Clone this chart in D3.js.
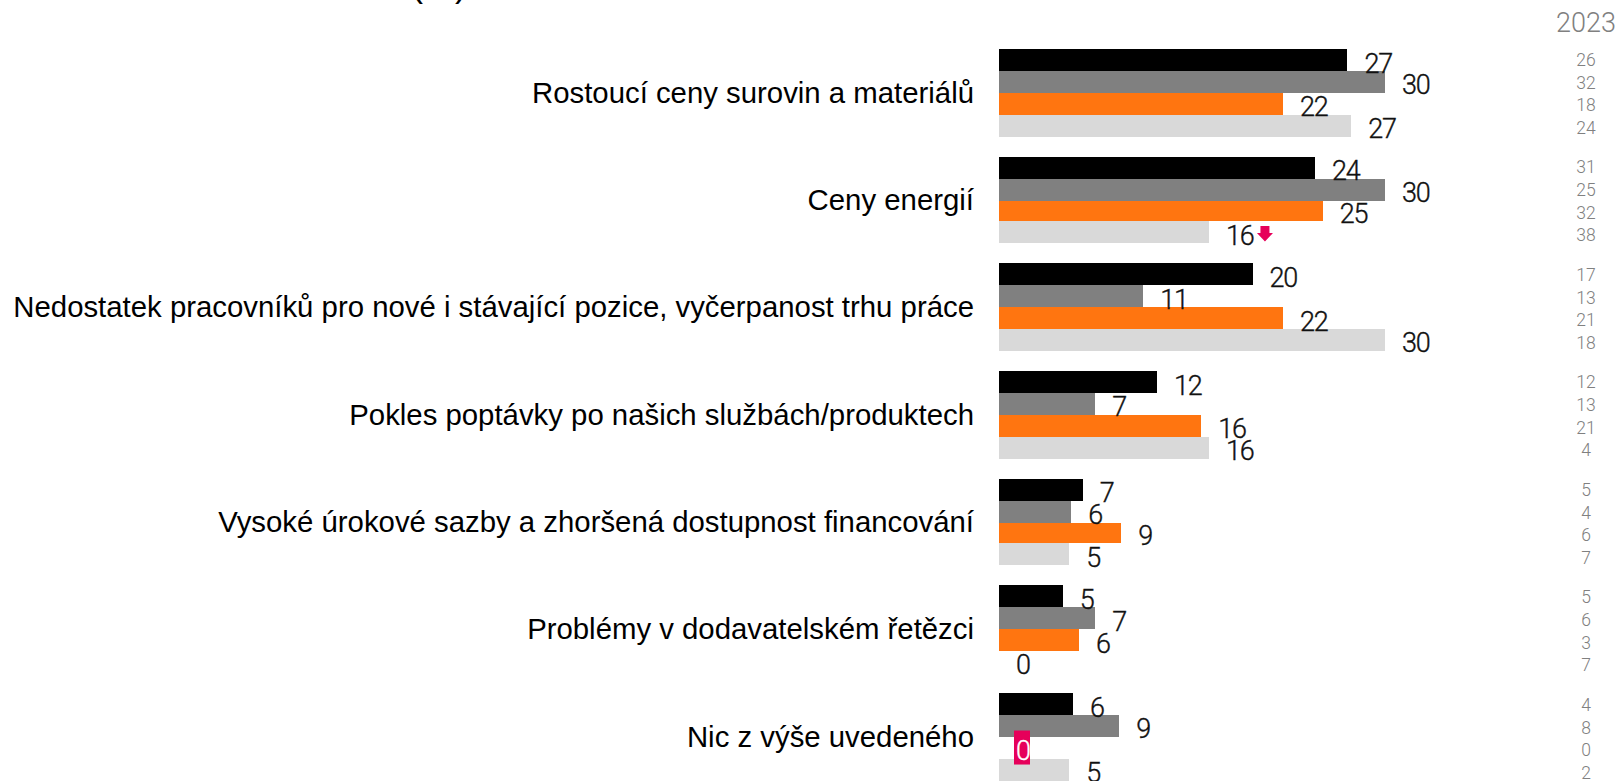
<!DOCTYPE html>
<html lang="cs"><head><meta charset="utf-8">
<script src="https://cdn.jsdelivr.net/npm/d3@7"></script>
<style>html,body{margin:0;padding:0;background:#fff;overflow:hidden}svg{display:block}</style>
</head><body><svg id="c" width="1616" height="781"></svg>
<script>
const categories=["Rostoucí ceny surovin a materiálů","Ceny energií","Nedostatek pracovníků pro nové i stávající pozice, vyčerpanost trhu práce","Pokles poptávky po našich službách/produktech","Vysoké úrokové sazby a zhoršená dostupnost financování","Problémy v dodavatelském řetězci","Nic z výše uvedeného"];
const seriesColors=["#000000","#808080","#ff7510","#d9d9d9"];
const barValues=[[26.8,29.7,21.85,27.1],[24.3,29.7,24.9,16.15],[19.5,11.1,21.85,29.7],[12.15,7.4,15.55,16.15],[6.45,5.55,9.4,5.4],[4.9,7.4,6.15,0],[5.7,9.25,0,5.4]];
const labelValues=[[27,30,22,27],[24,30,25,16],[20,11,22,30],[12,7,16,16],[7,6,9,5],[5,7,6,0],[6,9,0,5]];
const year2023=[[26,32,18,24],[31,25,32,38],[17,13,21,18],[12,13,21,4],[5,4,6,7],[5,6,3,7],[4,8,0,2]];
const columnTitle="2023";
const titleFragment="(%)";
const downMarks=[[1,3]];
const tagMarks=[[6,2]];
const pink="#e6005a";
const numFont="Roboto, sans-serif";
const svg=d3.select("#c");
const snapY=v=>2*Math.round((v-1)/2)+1;
const x=d3.scaleLinear().domain([0,30]).range([999,1389]);
const groupStep=107.33,barH=21.7,top0=49.3;
const yS=d3.scaleBand().domain(d3.range(4)).range([0,4*barH]);
const yb=(g,s)=>top0+groupStep*g+yS(s);
const barTop=(g,s)=>snapY(yb(g,s));
const barBot=(g,s)=>snapY(yb(g,s)+barH);
const flat=barValues.flatMap((r,g)=>r.map((v,s)=>({g,s,v,label:labelValues[g][s]})));
svg.append("text").attr("x",439).attr("y",-4.5).attr("text-anchor","middle").attr("font-family","'Liberation Sans',Arial,sans-serif").attr("font-size",36).text(titleFragment);
svg.append("g").selectAll("text").data(categories).join("text")
 .attr("x",974).attr("y",(d,i)=>yb(i,0)+2*barH+10).attr("text-anchor","end")
 .attr("font-family","'Liberation Sans',Arial,sans-serif").attr("font-size",29.35).attr("fill","#000").text(d=>d);
svg.append("g").selectAll("rect").data(flat.filter(d=>d.v>0)).join("rect")
 .attr("x",x(0)).attr("y",d=>barTop(d.g,d.s)).attr("width",d=>2*Math.round((x(d.v)-x(0))/2)).attr("height",d=>barBot(d.g,d.s)-barTop(d.g,d.s)).attr("fill",d=>seriesColors[d.s]);
const isTag=d=>tagMarks.some(m=>m[0]===d.g&&m[1]===d.s);
const labelX=d=>x(d.v)+17;
const labelY=d=>yb(d.g,d.s)+barH/2+12.5;
svg.append("g").selectAll("rect").data(flat.filter(isTag)).join("rect")
 .attr("x",d=>labelX(d)-2).attr("y",d=>labelY(d)-29.5).attr("width",16).attr("height",34).attr("fill",pink);
svg.append("g").selectAll("text").data(flat).join("text")
 .attr("x",labelX).attr("y",labelY).attr("font-family",numFont).attr("font-weight",300).attr("font-size",27).attr("letter-spacing",-1.2)
 .attr("stroke",d=>isTag(d)?"#fff":"#111").attr("stroke-width",0.35)
 .attr("fill",d=>isTag(d)?"#fff":"#111").text(d=>d.label);
const arrow="M-4.5,0H4.5V7H8L0,15.5L-8,7H-4.5Z";
svg.append("g").selectAll("path").data(downMarks).join("path")
 .attr("d",arrow).attr("fill",pink).attr("transform",m=>`translate(${x(barValues[m[0]][m[1]])+56},${barTop(m[0],m[1])+5})`);
svg.append("text").attr("x",1586).attr("y",32).attr("text-anchor","middle").attr("font-family",numFont).attr("font-weight",300).attr("font-size",27).attr("fill","#808080").text(columnTitle);
const colY=d3.scaleLinear().domain([0,1]).range([65.8,173.3]);
svg.append("g").selectAll("text").data(year2023.flatMap((r,g)=>r.map((v,s)=>({g,s,v})))).join("text")
 .attr("x",1586).attr("y",d=>colY(d.g)+22.7*d.s).attr("text-anchor","middle").attr("font-family",numFont).attr("font-weight",300).attr("font-size",17.5).attr("fill","#808080").text(d=>d.v);
</script></body></html>
